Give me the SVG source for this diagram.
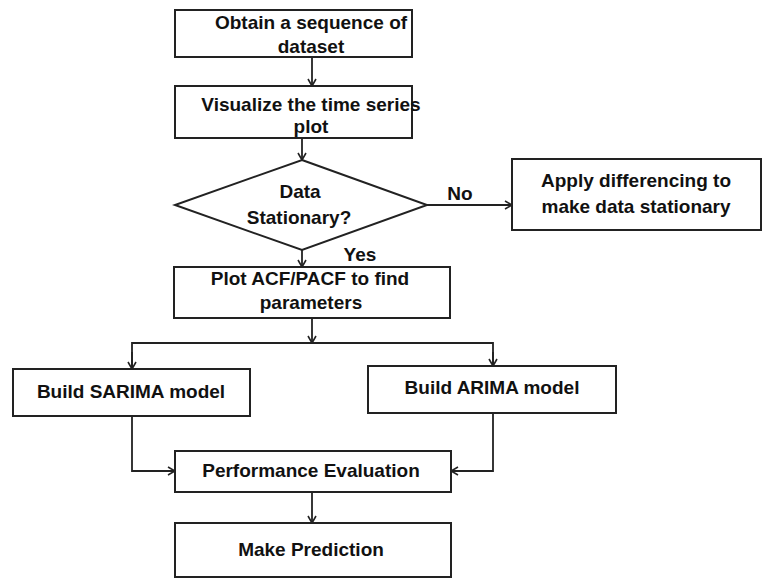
<svg xmlns="http://www.w3.org/2000/svg" width="762" height="579" viewBox="0 0 762 579">
<defs>
<marker id="arr" viewBox="0 0 10 10" refX="9" refY="5" markerWidth="10" markerHeight="10" markerUnits="userSpaceOnUse" orient="auto">
<polyline points="2,1 9,5 2,9" fill="none" stroke="#222" stroke-width="1.6"/>
</marker>
<style>
.box{fill:#fff;stroke:#222;stroke-width:2}
.t{font-family:"Liberation Sans",Arial,sans-serif;font-weight:bold;font-size:19px;fill:#111;text-anchor:middle}
.c{fill:none;stroke:#222;stroke-width:1.8}
</style>
</defs>
<rect width="762" height="579" fill="#fff"/>
<g id="connectors">
<line class="c" x1="312" y1="57" x2="312" y2="86" marker-end="url(#arr)"/>
<line class="c" x1="302" y1="138" x2="302" y2="160" marker-end="url(#arr)"/>
<line class="c" x1="302" y1="250" x2="302" y2="267" marker-end="url(#arr)"/>
<line class="c" x1="427" y1="205" x2="512" y2="205" marker-end="url(#arr)"/>
<line class="c" x1="312" y1="318" x2="312" y2="343" marker-end="url(#arr)"/>
<polyline class="c" points="132,369 132,343 493,343 493,366" />
<line class="c" x1="132" y1="352" x2="132" y2="369" marker-end="url(#arr)"/>
<line class="c" x1="493" y1="352" x2="493" y2="366" marker-end="url(#arr)"/>
<polyline class="c" points="132,416 132,471 175,471" marker-end="url(#arr)"/>
<polyline class="c" points="493,413 493,471 451,471" marker-end="url(#arr)"/>
<line class="c" x1="312" y1="492" x2="312" y2="523" marker-end="url(#arr)"/>
<text class="t" x="460" y="200">No</text>
<text class="t" x="360" y="261">Yes</text>
</g>
<g id="n1">
<rect class="box" x="175" y="10" width="237" height="47"/>
<text class="t" x="311" y="29">Obtain a sequence of</text>
<text class="t" x="311" y="53">dataset</text>
</g>
<g id="n2">
<rect class="box" x="175" y="86" width="237" height="52"/>
<text class="t" x="311" y="111">Visualize the time series</text>
<text class="t" x="311" y="133">plot</text>
</g>
<g id="n3">
<polygon class="box" points="302,160 427,205 302,250 175,205"/>
<text class="t" x="300" y="198">Data</text>
<text class="t" x="299" y="224">Stationary?</text>
</g>
<g id="n4">
<rect class="box" x="512" y="159" width="249" height="71"/>
<text class="t" x="636" y="187">Apply differencing to</text>
<text class="t" x="636" y="213">make data stationary</text>
</g>
<g id="n5">
<rect class="box" x="174" y="267" width="276" height="51"/>
<text class="t" x="310" y="285">Plot ACF/PACF to find</text>
<text class="t" x="311" y="309">parameters</text>
</g>
<g id="n6">
<rect class="box" x="13" y="369" width="237" height="47"/>
<text class="t" x="131" y="398">Build SARIMA model</text>
</g>
<g id="n7">
<rect class="box" x="368" y="366" width="248" height="47"/>
<text class="t" x="492" y="394">Build ARIMA model</text>
</g>
<g id="n8">
<rect class="box" x="175" y="451" width="276" height="41"/>
<text class="t" x="311" y="477">Performance Evaluation</text>
</g>
<g id="n9">
<rect class="box" x="175" y="523" width="276" height="54"/>
<text class="t" x="311" y="556">Make Prediction</text>
</g>
</svg>
